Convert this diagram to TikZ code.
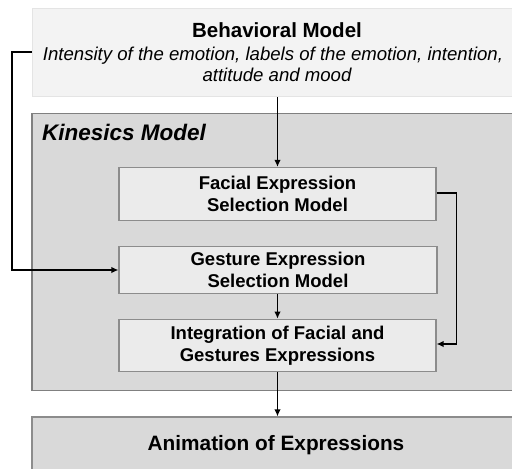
\documentclass[tikz,border=0pt]{standalone}
\usepackage{fontspec}
\setmainfont{Liberation Sans}
\usetikzlibrary{arrows.meta}
\definecolor{outerfill}{HTML}{D9D9D9}
\definecolor{outerdraw}{HTML}{808080}
\definecolor{innerfill}{HTML}{EBEBEB}
\definecolor{innerdraw}{HTML}{8C8C8C}
\definecolor{topfill}{HTML}{F3F3F3}
\definecolor{topdraw}{HTML}{E4E4E4}
\begin{document}
\begin{tikzpicture}[x=1pt,y=-1pt,
  outerbox/.style={draw=outerdraw,line width=1.8pt,fill=outerfill,inner sep=0pt},
  innerbox/.style={draw=innerdraw,line width=1.2pt,fill=innerfill,minimum width=317pt,align=center,inner sep=0pt,font=\fontsize{18.5}{21.7}\selectfont\bfseries},
  conn/.style={line width=1.9pt,-{Latex[length=7pt,width=6.5pt]}}]
\useasboundingbox (0,0) rectangle (512,469);
\clip (0,0) rectangle (512,469);
\fill[white] (0,0) rectangle (512,469);
% Behavioral model
\node[draw=topdraw,line width=1pt,fill=topfill,minimum width=490pt,minimum height=88pt,inner sep=0pt] (beh) at (277,52.5) {};
\node[anchor=base,inner sep=0pt] (behtitle) at (277,37.7) {\fontsize{20.5}{24}\selectfont\bfseries Behavioral Model};
\node[anchor=base,inner sep=0pt] (behtext1) at (273,60.7) {\fontsize{18.6}{21}\selectfont\itshape Intensity of the emotion, labels of the emotion, intention,};
\node[anchor=base,inner sep=0pt] (behtext2) at (277,81.7) {\fontsize{18.6}{21}\selectfont\itshape attitude and mood};
% Kinesics model
\node[outerbox,minimum width=495pt,minimum height=277pt] (kin) at (279.5,252) {};
\node[anchor=base west,inner sep=0pt] (kintitle) at (42,140) {\fontsize{22.5}{26}\selectfont\bfseries\itshape Kinesics Model};
% inner boxes
\node[innerbox,minimum height=53pt] (fac) at (277.5,194) {Facial Expression\\Selection Model};
\node[innerbox,minimum height=46.5pt,minimum width=318pt] (ges) at (278,270) {Gesture Expression\\Selection Model};
\node[innerbox,minimum height=52.5pt] (int) at (277.5,345.5) {Integration of Facial and\\Gestures Expressions};
% Animation
\node[draw=innerdraw,line width=1.2pt,fill=outerfill,minimum width=495pt,minimum height=60pt,inner sep=0pt] (ani) at (279.5,447) {};
\node[anchor=base,inner sep=0pt] (anitext) at (276,450) {\fontsize{20.8}{24}\selectfont\bfseries Animation of Expressions};
% connectors
\coordinate (lt) at (12,52);
\coordinate (lb) at (12,270);
\coordinate (rt) at (456.5,193);
\coordinate (rb) at (456.5,344);
\draw[conn] (beh.south -| fac.north) -- (fac.north);
\draw[conn] (ges.south -| int.north) -- (int.north);
\draw[conn] (int.south) -- (ani.north -| int.south);
\draw[conn] (beh.west |- lt) -- (lt) -- (lb) -- (ges.west);
\draw[conn] (fac.east |- rt) -- (rt) -- (rb) -- (int.east |- rb);
\end{tikzpicture}
\end{document}
